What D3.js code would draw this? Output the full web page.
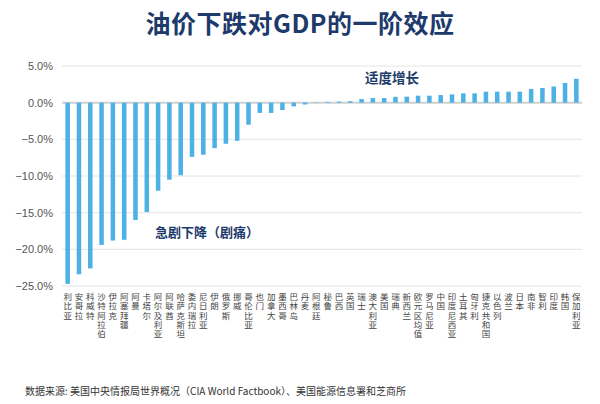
<!DOCTYPE html>
<html>
<head>
<meta charset="utf-8">
<script src="https://cdn.jsdelivr.net/npm/d3@7"></script>
<style>
  body { margin: 0; background: #fff; }
  svg { display: block; font-family: "Noto Sans CJK SC", "Noto Sans", sans-serif; }
</style>
</head>
<body>
<div id="chart"></div>
<script>
// Data
const countries = ["利比亚", "安哥拉", "科威特", "沙特阿拉伯", "伊拉克", "阿塞拜疆", "阿曼", "卡塔尔",
  "阿尔及利亚", "阿联酋", "哈萨克斯坦", "委内瑞拉", "尼日利亚", "伊朗", "俄罗斯", "挪威",
  "哥伦比亚", "也门", "加拿大", "墨西哥", "巴林岛", "丹麦", "阿根廷", "秘鲁", "巴西", "英国",
  "瑞士", "澳大利亚", "美国", "瑞典", "新西兰", "欧元区均值", "罗马尼亚", "中国", "印度尼西亚",
  "土耳其", "匈牙利", "捷克共和国", "以色列", "波兰", "日本", "南非", "智利", "印度", "韩国", "保加利亚"];
const effects = [-24.7, -23.4, -22.6, -19.4, -18.8, -18.7, -16.0, -14.9,
  -12.0, -10.5, -9.9, -7.4, -7.1, -6.2, -5.6, -5.2,
  -3.0, -1.4, -1.4, -1.0, -0.5, -0.25, -0.05, 0.1, 0.15, 0.2,
  0.5, 0.63, 0.63, 0.8, 0.82, 0.95, 0.95, 1.04, 1.13,
  1.27, 1.27, 1.5, 1.5, 1.5, 1.5, 1.86, 2.0, 2.2, 2.7, 3.26];
const yTicks = [5, 0, -5, -10, -15, -20, -25];

const title = "油价下跌对GDP的一阶效应";
const source = "数据来源: 美国中央情报局世界概况（CIA World Factbook）、美国能源信息署和芝商所";

const width = 600, height = 404;
const margin = {top: 66, right: 18, bottom: 118, left: 62};
const navy = "#1d3a6b";

const svg = d3.select("#chart").append("svg")
  .attr("width", width)
  .attr("height", height);

const x = d3.scaleBand()
  .domain(countries)
  .range([margin.left, width - margin.right])
  .paddingInner(0.6)
  .paddingOuter(0.3);

const y = d3.scaleLinear()
  .domain([-25, 5])
  .range([height - margin.bottom, margin.top]);

// Gridlines
svg.append("g")
  .selectAll("line")
  .data(yTicks)
  .join("line")
    .attr("x1", margin.left)
    .attr("x2", width - margin.right)
    .attr("y1", d => y(d))
    .attr("y2", d => y(d))
    .attr("stroke", d => d === 0 ? "#d0d0d0" : "#e4e4e4")
    .attr("stroke-width", d => d === 0 ? 2 : 1);

// Y tick labels
svg.append("g")
  .selectAll("text")
  .data(yTicks)
  .join("text")
    .attr("x", 53)
    .attr("y", d => y(d))
    .attr("dy", "0.35em")
    .attr("text-anchor", "end")
    .attr("font-size", 11)
    .attr("font-family", "Liberation Sans, Arial, sans-serif")
    .attr("fill", "#555")
    .text(d => d3.format(".1f")(d) + "%");

// Bars
svg.append("g")
  .selectAll("rect")
  .data(countries)
  .join("rect")
    .attr("x", d => x(d))
    .attr("width", x.bandwidth())
    .attr("y", (d, i) => y(Math.max(0, effects[i])))
    .attr("height", (d, i) => Math.abs(y(effects[i]) - y(0)))
    .attr("fill", "#4db1e6");

// X labels: one small text per character, stacked down each column
const labelCols = svg.append("g")
  .selectAll("g")
  .data(countries)
  .join("g")
    .attr("transform", d => `translate(${x(d) + x.bandwidth() / 2},293)`);

labelCols.selectAll("text")
  .data(d => Array.from(d))
  .join("text")
    .attr("x", 0)
    .attr("y", (c, i) => i * 9.2)
    .attr("dy", "0.85em")
    .attr("font-size", 8.5)
    .attr("fill", "#444")
    .attr("text-anchor", "middle")
    .text(c => c);

// Title
svg.append("text")
  .attr("x", width / 2)
  .attr("y", 33)
  .attr("text-anchor", "middle")
  .attr("font-size", 25)
  .attr("font-weight", "bold")
  .attr("letter-spacing", 0.5)
  .attr("fill", navy)
  .text(title);

// Annotations
svg.append("text")
  .attr("x", 155)
  .attr("y", 237)
  .attr("font-size", 13)
  .attr("font-weight", "bold")
  .attr("fill", navy)
  .text("急剧下降（剧痛）");

svg.append("text")
  .attr("x", 365)
  .attr("y", 83)
  .attr("font-size", 13.5)
  .attr("font-weight", "bold")
  .attr("fill", navy)
  .text("适度增长");

// Source note
svg.append("text")
  .attr("x", 25)
  .attr("y", 395)
  .attr("font-size", 10)
  .attr("fill", "#333")
  .text(source);
</script>
</body>
</html>
